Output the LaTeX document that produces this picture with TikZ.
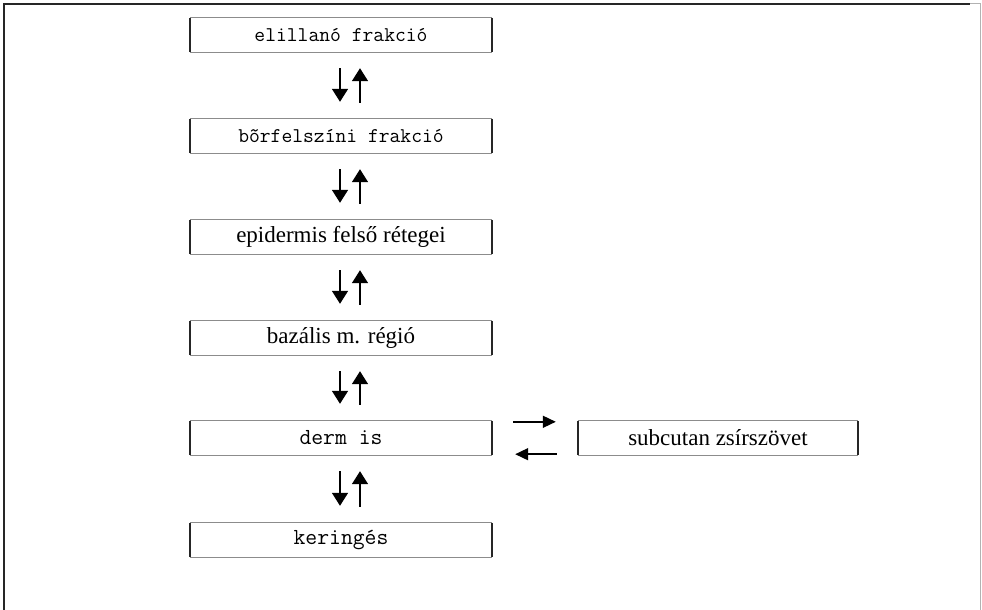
\documentclass[tikz,border=0pt]{standalone}
\usepackage{fontspec}
\setmainfont{Liberation Serif}
\usetikzlibrary{arrows.meta}
\tikzset{
  boxnode/.style={minimum width=302pt, minimum height=34pt, inner sep=0pt, anchor=center},
  serifbox/.style={boxnode, font=\fontsize{23}{23}\selectfont},
  monobox/.style={boxnode, font=\ttfamily\fontsize{21}{21}\selectfont},
  bigmonobox/.style={boxnode, font=\ttfamily\fontsize{23}{23}\selectfont},
  sideline/.style={line width=1.8pt, black!85},
  capline/.style={line width=1pt, black!45},
  varrow/.style={line width=1.6pt, -{Triangle[length=13pt,width=16pt]}},
  harrow/.style={line width=1.6pt, -{Triangle[length=13pt,width=12pt]}},
}
\newcommand{\myboxframe}[1]{%
  \draw[capline] (#1.north west) -- (#1.north east);
  \draw[capline] (#1.south west) -- (#1.south east);
  \draw[sideline] (#1.north west) -- (#1.south west);
  \draw[sideline] (#1.north east) -- (#1.south east);
}
\begin{document}
\begin{tikzpicture}[x=1pt,y=-1pt]
\useasboundingbox (0,0) rectangle (982,610);
\fill[white] (0,0) rectangle (982,610);
% outer frame
\coordinate (ftl) at (4,4);
\coordinate (ftr) at (980,4);
\coordinate (fbl) at (4,610);
\coordinate (fbr) at (980,610);
\draw[line width=2.5pt, black!85] (fbl) -- (ftl) -- (970,4);
\draw[line width=1pt, black!30] (970,4) -- (ftr) -- (fbr);

% boxes
\node[monobox]    (a) at (341,35)  {elillanó frakció};
\node[monobox]    (b) at (341,136) {bõrfelszíni frakció};
\node[serifbox]   (c) at (341,237) {epidermis felső rétegei};
\node[serifbox]   (d) at (341,338) {bazális m. régió};
\node[bigmonobox] (e) at (341,438) {derm is};
\node[bigmonobox] (f) at (341,540) {keringés};
\node[serifbox, minimum width=280pt] (s) at (718,438) {subcutan zsírszövet};

\myboxframe{a}\myboxframe{b}\myboxframe{c}\myboxframe{d}\myboxframe{e}\myboxframe{f}\myboxframe{s}

% vertical arrow pairs
\foreach \u/\v in {a/b, b/c, c/d, d/e, e/f}{
  \draw[varrow] ([xshift=-1pt,yshift=-16pt]\u.south) -- ([xshift=-1pt,yshift=17pt]\v.north);
  \draw[varrow] ([xshift=19pt,yshift=16pt]\v.north) -- ([xshift=19pt,yshift=-16pt]\u.south);
}

% horizontal arrows
\draw[harrow] ([xshift=21pt,yshift=-1pt]e.north east) -- ([xshift=-22pt,yshift=-1pt]s.north west);
\draw[harrow] ([xshift=-21pt,yshift=1pt]s.south west) -- ([xshift=23pt,yshift=1pt]e.south east);
\end{tikzpicture}
\end{document}
